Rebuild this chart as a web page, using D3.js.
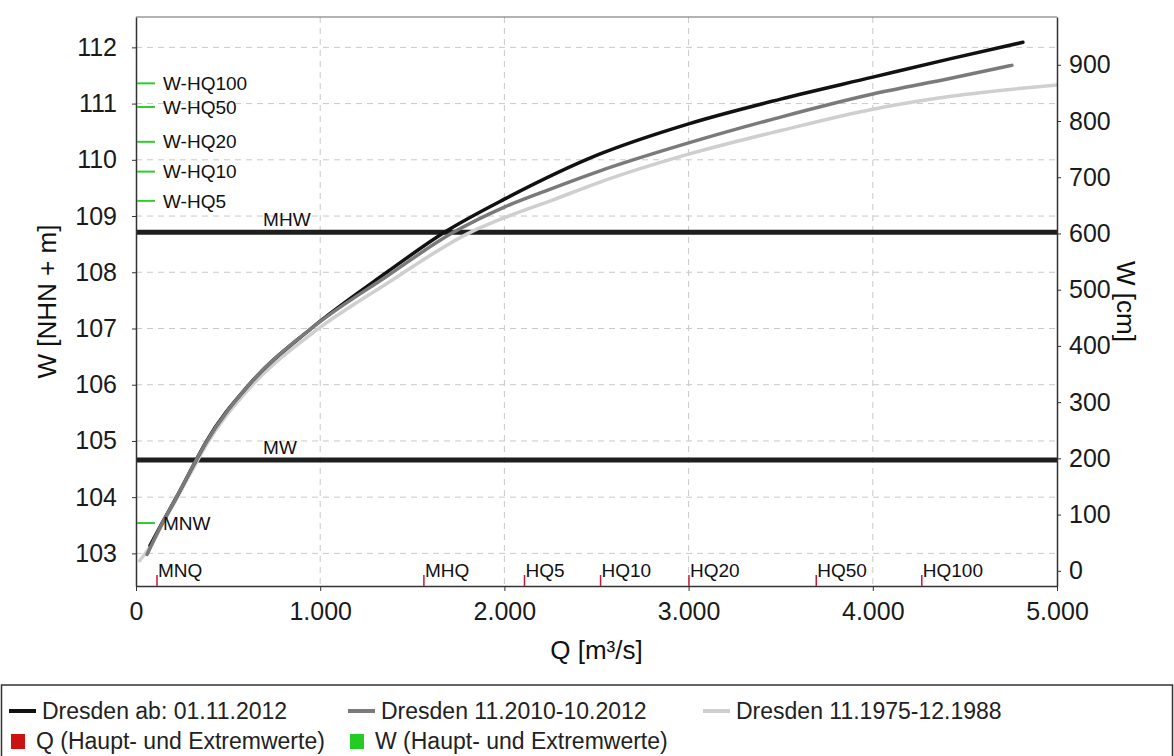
<!DOCTYPE html>
<html><head><meta charset="utf-8">
<script src="https://cdn.jsdelivr.net/npm/d3@7"></script>
<style>
body{margin:0;background:#fff}
svg{display:block}
text{font-family:"Liberation Sans",Arial,sans-serif}
</style>
</head><body>
<svg id="c" width="1174" height="756"></svg>
<script>
// ---- data ----
const qBlack = [76, 140, 220, 320, 380, 614, 951, 1362, 1679, 2000, 2516, 3000, 3500, 4000, 4424, 4815];
const wBlack = [103.14, 103.53, 104.0, 104.62, 104.98, 106.0, 107.0, 108.0, 108.72, 109.3, 110.1, 110.64, 111.08, 111.47, 111.8, 112.09];
const qDark = [60, 140, 220, 320, 380, 614, 951, 1362, 1723, 2000, 2250, 2516, 3000, 3500, 4000, 4424, 4755];
const wDark = [102.98, 103.52, 104.0, 104.62, 104.97, 106.0, 107.0, 107.93, 108.71, 109.16, 109.48, 109.8, 110.3, 110.76, 111.17, 111.45, 111.68];
const qLight = [20, 76, 140, 220, 320, 380, 614, 951, 1362, 1815, 2000, 2250, 2516, 3000, 3500, 4000, 4424, 5000];
const wLight = [102.87, 103.12, 103.5, 103.97, 104.57, 104.92, 105.93, 106.9, 107.8, 108.71, 108.97, 109.27, 109.6, 110.1, 110.52, 110.9, 111.13, 111.33];

const xTicks = [0, 1000, 2000, 3000, 4000, 5000];
const yTicksLeft = [103, 104, 105, 106, 107, 108, 109, 110, 111, 112];
const yTicksRight = [0, 100, 200, 300, 400, 500, 600, 700, 800, 900];
const gaugeZero = 102.69;
const wDomain = [102.42, 112.54];

const qMarkerNames = ["MNQ", "MHQ", "HQ5", "HQ10", "HQ20", "HQ50", "HQ100"];
const qMarkerValues = [114, 1563, 2109, 2522, 3002, 3693, 4266];
const wMarkerNames = ["W-HQ100", "W-HQ50", "W-HQ20", "W-HQ10", "W-HQ5", "MNW"];
const wMarkerValues = [111.36, 110.94, 110.32, 109.79, 109.27, 103.54];
const refLineNames = ["MHW", "MW"];
const refLineValues = [108.71, 104.66];

const seriesNames = ["Dresden ab: 01.11.2012", "Dresden 11.2010-10.2012", "Dresden 11.1975-12.1988"];
const seriesColors = ["#111111", "#7a7a7a", "#cfcfcf"];
const markerLegendNames = ["Q (Haupt- und Extremwerte)", "W (Haupt- und Extremwerte)"];
const markerLegendColors = ["#cc1111", "#22cc22"];

// ---- layout ----
const L = 136, R = 1057, T = 17, B = 586;
const svg = d3.select("#c");
const x = d3.scaleLinear([0, 5000], [L, R]);
const y = d3.scaleLinear(wDomain, [B, T]);
const yR = d3.scaleLinear(wDomain.map(w => (w - gaugeZero) * 100), [B, T]);
const de = d3.formatLocale({decimal: ",", thousands: ".", grouping: [3], currency: ["", "€"]});
const fmtQ = de.format(",d");

svg.append("rect").attr("width", 1174).attr("height", 756).attr("fill", "#fff");

// grid
const grid = svg.append("g").attr("stroke", "#c9c9c9").attr("stroke-width", 1).attr("stroke-dasharray", "6,5");
grid.selectAll(".h").data(yTicksLeft).join("line")
  .attr("x1", L).attr("x2", R).attr("y1", d => y(d)).attr("y2", d => y(d));
grid.selectAll(".v").data(xTicks.slice(1, -1)).join("line")
  .attr("y1", T).attr("y2", B).attr("x1", d => x(d)).attr("x2", d => x(d));

// clip
svg.append("clipPath").attr("id", "pc").append("rect").attr("x", L).attr("y", T).attr("width", R - L).attr("height", B - T);

// reference lines
const refs = svg.append("g");
refLineValues.forEach((v, i) => {
  refs.append("line").attr("x1", L).attr("x2", R).attr("y1", y(v)).attr("y2", y(v))
    .attr("stroke", "#1e1e1e").attr("stroke-width", 5);
  refs.append("text").attr("x", x(690)).attr("y", y(v) - 6).attr("font-size", 19).attr("fill", "#111")
    .text(refLineNames[i]);
});

// curves
const line = d3.line().x(d => x(d[0])).y(d => y(d[1])).curve(d3.curveMonotoneX);
const series = [
  [qLight, wLight, seriesColors[2]],
  [qBlack, wBlack, seriesColors[0]],
  [qDark, wDark, seriesColors[1]]
];
const cg = svg.append("g").attr("clip-path", "url(#pc)");
series.forEach(([qs, ws, c]) => {
  cg.append("path").datum(qs.map((q, i) => [q, ws[i]])).attr("d", line)
    .attr("fill", "none").attr("stroke", c).attr("stroke-width", 3.5).attr("stroke-linecap", "round");
});

// axes
function styleAxis(g) {
  g.select(".domain").attr("stroke", "#333").attr("stroke-width", 1.5);
  g.selectAll(".tick line").attr("stroke", "#333");
  g.selectAll(".tick text").attr("font-size", 25).attr("fill", "#1a1a1a")
    .attr("font-family", "'Liberation Sans', Arial, sans-serif");
}
svg.append("g").attr("transform", `translate(${L},0)`)
  .call(d3.axisLeft(y).tickValues(yTicksLeft).tickSize(4).tickPadding(15).tickSizeOuter(0).tickFormat(d3.format("d")))
  .call(styleAxis);
svg.append("g").attr("transform", `translate(${R},0)`)
  .call(d3.axisRight(yR).tickValues(yTicksRight).tickSize(4).tickPadding(8).tickSizeOuter(0).tickFormat(d3.format("d")))
  .call(styleAxis);
svg.append("g").attr("transform", `translate(0,${B})`)
  .call(d3.axisBottom(x).tickValues(xTicks).tickSize(5).tickPadding(11).tickSizeOuter(0).tickFormat(fmtQ))
  .call(styleAxis);
svg.append("line").attr("x1", L).attr("x2", R).attr("y1", T).attr("y2", T).attr("stroke", "#666").attr("stroke-width", 1);

// Q markers
const qm = svg.append("g");
qMarkerValues.forEach((v, i) => {
  qm.append("line").attr("x1", x(v)).attr("x2", x(v)).attr("y1", B).attr("y2", B - 11)
    .attr("stroke", "#c8173c").attr("stroke-width", 1.5);
  qm.append("text").attr("x", x(v) + 1).attr("y", B - 9).attr("font-size", 19).attr("fill", "#111")
    .text(qMarkerNames[i]);
});

// W markers
const wm = svg.append("g");
wMarkerValues.forEach((v, i) => {
  wm.append("line").attr("x1", L + 1).attr("x2", L + 19).attr("y1", y(v)).attr("y2", y(v))
    .attr("stroke", "#2fcc2f").attr("stroke-width", 2);
  wm.append("text").attr("x", L + 27).attr("y", y(v)).attr("dy", "0.35em").attr("font-size", 19).attr("fill", "#111")
    .text(wMarkerNames[i]);
});

// axis titles
svg.append("text").attr("x", (L + R) / 2).attr("y", 659).attr("text-anchor", "middle")
  .attr("font-size", 26).attr("fill", "#111").text("Q [m³/s]");
svg.append("text").attr("transform", `translate(56,${(T + B) / 2}) rotate(-90)`).attr("text-anchor", "middle")
  .attr("font-size", 26).attr("fill", "#111").text("W [NHN + m]");
svg.append("text").attr("transform", `translate(1117,${(T + B) / 2}) rotate(90)`).attr("text-anchor", "middle")
  .attr("font-size", 26).attr("fill", "#111").text("W [cm]");

// legend
const lg = svg.append("g");
lg.append("rect").attr("x", 1.5).attr("y", 685).attr("width", 1171).attr("height", 80)
  .attr("fill", "none").attr("stroke", "#333").attr("stroke-width", 1.5);
const colX = [9, 348, 703];
seriesNames.forEach((n, i) => {
  lg.append("line").attr("x1", colX[i]).attr("x2", colX[i] + 27).attr("y1", 711).attr("y2", 711)
    .attr("stroke", seriesColors[i]).attr("stroke-width", 4);
  lg.append("text").attr("x", colX[i] + 33).attr("y", 711).attr("dy", "0.35em")
    .attr("font-size", 23).attr("fill", "#222").text(n);
});
markerLegendNames.forEach((n, i) => {
  lg.append("rect").attr("x", colX[i] + 2).attr("y", 734).attr("width", 14).attr("height", 15)
    .attr("fill", markerLegendColors[i]);
  lg.append("text").attr("x", colX[i] + 27).attr("y", 741).attr("dy", "0.35em")
    .attr("font-size", 23).attr("fill", "#222").text(n);
});
</script>
</body></html>
